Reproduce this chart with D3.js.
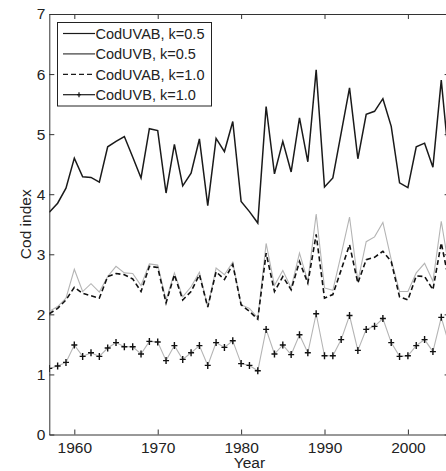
<!DOCTYPE html>
<html>
<head>
<meta charset="utf-8">
<script src="https://cdn.jsdelivr.net/npm/d3@7"></script>
<style>
  body { margin: 0; background: #fff; }
  svg { display: block; font-family: "Liberation Sans", Arial, sans-serif; }
  .axis text { fill: #222; font-size: 15.5px; }
  .axis path, .axis line { stroke: #333; }
</style>
</head>
<body>
<div class="chart-container"></div>
<script>
(function() {
  ////////////////////////////////////////////////////////////
  //// Data //////////////////////////////////////////////////
  ////////////////////////////////////////////////////////////
  const years = d3.range(1957, 2006);
  const xTicks = [1960, 1970, 1980, 1990, 2000];
  const yTicks = [0, 1, 2, 3, 4, 5, 6, 7];
  const seriesNames = ["CodUVAB, k=0.5", "CodUVB, k=0.5", "CodUVAB, k=1.0", "CodUVB, k=1.0"];

  const codUVAB05 = [3.70, 3.85, 4.10, 4.60, 4.29, 4.28, 4.20, 4.79, 4.88, 4.96,
    4.62, 4.27, 5.09, 5.06, 4.02, 4.83, 4.14, 4.35, 4.92, 3.81,
    4.93, 4.71, 5.21, 3.88, 3.71, 3.52, 5.46, 4.34, 4.88, 4.37,
    5.27, 4.54, 6.07, 4.12, 4.27, 5.02, 5.77, 4.59, 5.33, 5.38,
    5.59, 5.13, 4.19, 4.11, 4.79, 4.85, 4.45, 5.90, 4.45];
  const codUVB05 = [2.05, 2.13, 2.27, 2.75, 2.38, 2.51, 2.37, 2.63, 2.80, 2.69,
    2.68, 2.48, 2.84, 2.82, 2.24, 2.69, 2.29, 2.46, 2.70, 2.12,
    2.77, 2.66, 2.87, 2.16, 2.10, 1.94, 3.18, 2.48, 2.73, 2.44,
    3.02, 2.55, 3.67, 2.44, 2.40, 3.00, 3.62, 2.55, 3.21, 3.29,
    3.53, 2.91, 2.38, 2.38, 2.69, 2.85, 2.55, 3.55, 2.71];
  const codUVAB10 = [2.01, 2.10, 2.24, 2.45, 2.35, 2.31, 2.27, 2.63, 2.68, 2.66,
    2.59, 2.38, 2.80, 2.78, 2.19, 2.66, 2.24, 2.38, 2.66, 2.12,
    2.71, 2.58, 2.83, 2.16, 2.05, 1.92, 3.02, 2.38, 2.63, 2.41,
    2.88, 2.52, 3.33, 2.27, 2.33, 2.74, 3.16, 2.52, 2.91, 2.95,
    3.05, 2.88, 2.29, 2.24, 2.64, 2.63, 2.41, 3.19, 2.50];
  const codUVB10 = [1.10, 1.14, 1.20, 1.49, 1.30, 1.36, 1.30, 1.44, 1.53, 1.46,
    1.46, 1.34, 1.55, 1.54, 1.23, 1.48, 1.25, 1.36, 1.48, 1.15,
    1.53, 1.45, 1.56, 1.18, 1.15, 1.06, 1.75, 1.34, 1.49, 1.33,
    1.66, 1.36, 2.01, 1.31, 1.31, 1.58, 1.98, 1.40, 1.75, 1.80,
    1.93, 1.53, 1.30, 1.31, 1.48, 1.58, 1.38, 1.95, 1.47];

  ////////////////////////////////////////////////////////////
  //// Chart /////////////////////////////////////////////////
  ////////////////////////////////////////////////////////////
  const chartWidth = 446;
  const chartHeight = 471;
  const margin = { top: 14, left: 49.3, bottom: 36.5 };
  const plotRight = 449.6; // right edge of the axes box sits just outside the window

  const xScale = d3.scaleLinear().domain([1957, 2005]).range([margin.left, plotRight]);
  const yScale = d3.scaleLinear().domain([0, 7]).range([chartHeight - margin.bottom, margin.top]);

  const svg = d3
    .select(".chart-container")
    .append("svg")
    .attr("width", chartWidth)
    .attr("height", chartHeight);

  svg.append("defs")
    .append("clipPath")
    .attr("id", "plot-clip")
    .append("rect")
    .attr("x", margin.left)
    .attr("y", margin.top)
    .attr("width", plotRight - margin.left)
    .attr("height", yScale(0) - margin.top);

  // axes box with inward ticks
  const gAxis = svg.append("g").attr("class", "axis");
  gAxis.append("g")
    .attr("transform", `translate(0,${yScale(0)})`)
    .call(d3.axisBottom(xScale).tickValues(xTicks).tickFormat(d3.format("d"))
      .tickSizeInner(-5).tickSizeOuter(0).tickPadding(7.5));
  gAxis.append("g")
    .attr("transform", `translate(0,${yScale(7)})`)
    .call(d3.axisTop(xScale).tickValues(xTicks).tickFormat("")
      .tickSizeInner(-5).tickSizeOuter(0));
  gAxis.append("g")
    .attr("transform", `translate(${margin.left},0)`)
    .call(d3.axisLeft(yScale).tickValues(yTicks).tickFormat(d3.format("d"))
      .tickSizeInner(-5).tickSizeOuter(0).tickPadding(4));
  gAxis.append("g")
    .attr("transform", `translate(${plotRight},0)`)
    .call(d3.axisRight(yScale).tickValues(yTicks).tickFormat("")
      .tickSizeInner(-5).tickSizeOuter(0));

  gAxis.append("text")
    .attr("x", (margin.left + plotRight) / 2)
    .attr("y", 468)
    .attr("text-anchor", "middle")
    .text("Year");
  gAxis.append("text")
    .attr("transform", `translate(31,${(yScale(0) + yScale(7)) / 2}) rotate(-90)`)
    .attr("text-anchor", "middle")
    .text("Cod index");

  // lines
  const line = d3.line()
    .x((d, i) => xScale(years[i]))
    .y(d => yScale(d));

  const gLines = svg.append("g").attr("clip-path", "url(#plot-clip)");

  gLines.append("path")
    .datum(codUVB05)
    .attr("fill", "none")
    .attr("stroke", "#b4b4b4")
    .attr("stroke-width", 1.1)
    .attr("d", line);
  gLines.append("path")
    .datum(codUVAB10)
    .attr("fill", "none")
    .attr("stroke", "#111")
    .attr("stroke-width", 1.6)
    .attr("stroke-dasharray", "5,3")
    .attr("d", line);
  gLines.append("path")
    .datum(codUVB10)
    .attr("fill", "none")
    .attr("stroke", "#b4b4b4")
    .attr("stroke-width", 1.1)
    .attr("d", line);
  gLines.append("g")
    .selectAll("path")
    .data(codUVB10)
    .join("path")
    .attr("transform", (d, i) => `translate(${xScale(years[i])},${yScale(d)})`)
    .attr("d", "M-3,0H3M0,-3.5V3.5")
    .attr("stroke", "#111")
    .attr("stroke-width", 1.4);
  gLines.append("path")
    .datum(codUVAB05)
    .attr("fill", "none")
    .attr("stroke", "#1a1a1a")
    .attr("stroke-width", 1.5)
    .attr("d", line);

  ////////////////////////////////////////////////////////////
  //// Legend ////////////////////////////////////////////////
  ////////////////////////////////////////////////////////////
  const legend = svg.append("g").attr("transform", "translate(57.5,22.5)");
  legend.append("rect")
    .attr("width", 154)
    .attr("height", 83.5)
    .attr("fill", "#fff")
    .attr("stroke", "#222")
    .attr("stroke-width", 1);

  const legendStyles = [
    { stroke: "#1a1a1a", dash: null, marker: false },
    { stroke: "#3a3a3a", dash: null, marker: false },
    { stroke: "#1a1a1a", dash: "5,3", marker: false },
    { stroke: "#1a1a1a", dash: null, marker: true }
  ];

  const rows = legend.selectAll("g.row")
    .data(seriesNames)
    .join("g")
    .attr("class", "row")
    .attr("transform", (d, i) => `translate(0,${11 + i * 20.4})`);
  rows.append("line")
    .attr("x1", 5.5)
    .attr("x2", 37.5)
    .attr("stroke", (d, i) => legendStyles[i].stroke)
    .attr("stroke-width", 1.2)
    .attr("stroke-dasharray", (d, i) => legendStyles[i].dash);
  rows.filter((d, i) => legendStyles[i].marker)
    .append("path")
    .attr("transform", "translate(21.5,0)")
    .attr("d", "M-2,0H2M0,-2.5V2.5")
    .attr("stroke", "#111")
    .attr("stroke-width", 1.2);
  rows.append("text")
    .attr("x", 38)
    .attr("dy", "0.36em")
    .attr("fill", "#222")
    .style("font-size", "14.5px")
    .text(d => d);
})();
</script>
</body>
</html>
